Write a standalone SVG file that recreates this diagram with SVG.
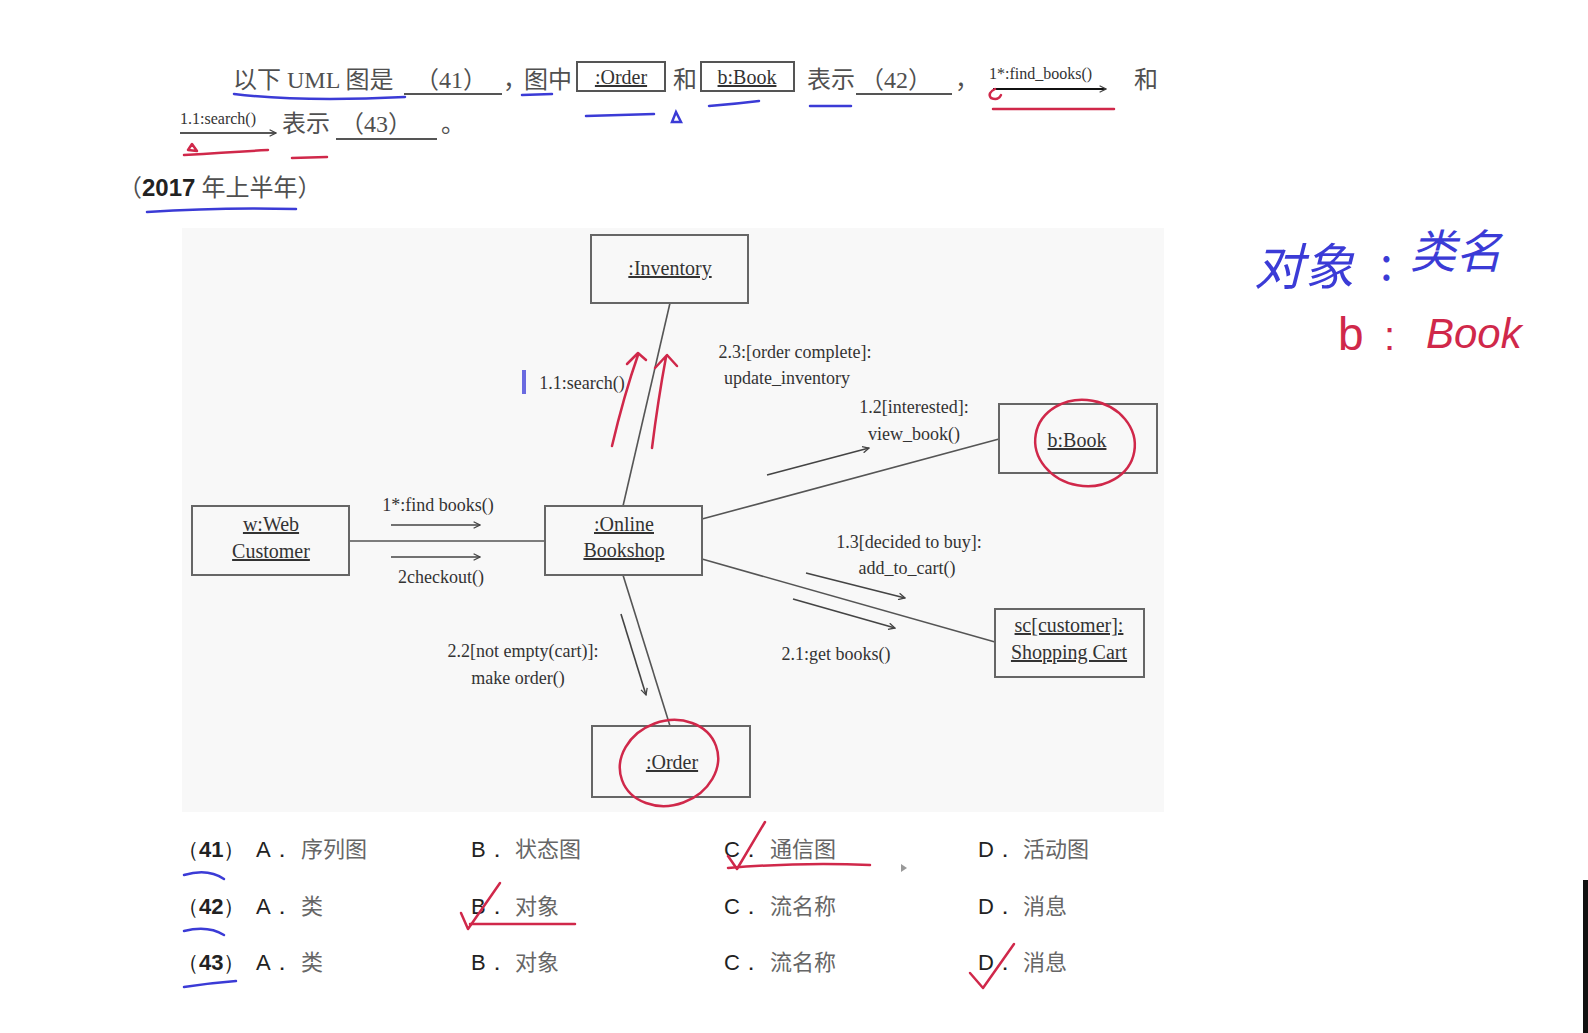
<svg xmlns="http://www.w3.org/2000/svg" width="1588" height="1033" viewBox="0 0 1588 1033">
<style>
.q{font-family:"Liberation Serif","Noto Sans CJK SC",serif;font-size:24px;fill:#505050}
.qs{font-family:"Liberation Serif",serif;font-size:16px;fill:#333}
.nd{fill:none;stroke:#666;stroke-width:2}
.nt{font-family:"Liberation Serif",serif;font-size:20px;fill:#333;text-anchor:middle;text-decoration:underline}
.lb{font-family:"Liberation Serif",serif;font-size:18px;fill:#333;text-anchor:middle}
.ln{stroke:#555;stroke-width:1.6;fill:none}
.ar{stroke:#444;stroke-width:1.6;fill:none;marker-end:url(#ah)}
.op{font-family:"Liberation Sans",sans-serif;font-size:22px;fill:#222}
.oc{font-family:"Noto Sans CJK SC",sans-serif;font-size:22px;fill:#666}
.bl{stroke:#3b3bd6;stroke-width:2.5;fill:none;stroke-linecap:round}
.rd{stroke:#d0284a;stroke-width:2.5;fill:none;stroke-linecap:round;stroke-linejoin:round}
.hb{font-family:"Noto Sans CJK SC",sans-serif;fill:#3b3bd6}
.hr{font-family:"Liberation Sans",sans-serif;fill:#d0284a}
</style>
<defs>
<marker id="ah" viewBox="0 0 10 10" refX="9" refY="5" markerWidth="8" markerHeight="8" orient="auto" markerUnits="userSpaceOnUse">
<path d="M1,1 L9,5 L1,9" fill="none" stroke="#444" stroke-width="1.6"/>
</marker>
</defs>
<rect width="1588" height="1033" fill="#fff"/>
<rect x="182" y="228" width="982" height="584" fill="#f8f8f8"/>
<rect x="1583" y="880" width="5" height="153" fill="#111"/>

<g id="question">
<text class="q" x="233" y="88">以下 UML 图是</text>
<text class="q" x="415" y="88">（41）</text>
<line x1="404" y1="94" x2="502" y2="94" stroke="#555" stroke-width="2"/>
<text class="q" x="503" y="88">，</text>
<text class="q" x="524" y="88">图中</text>
<rect x="577" y="62" width="88" height="29" fill="none" stroke="#555" stroke-width="2"/>
<text class="nt" x="621" y="84">:Order</text>
<text class="q" x="673" y="88">和</text>
<rect x="701" y="62" width="93" height="29" fill="none" stroke="#555" stroke-width="2"/>
<text class="nt" x="747" y="84">b:Book</text>
<text class="q" x="807" y="88">表示</text>
<text class="q" x="860" y="88">（42）</text>
<line x1="856" y1="94" x2="952" y2="94" stroke="#555" stroke-width="2"/>
<text class="q" x="955" y="88">，</text>
<text class="qs" x="989" y="79">1*:find_books()</text>
<line x1="993" y1="89" x2="1106" y2="89" stroke="#111" stroke-width="2" marker-end="url(#ah)"/>
<text class="q" x="1134" y="88">和</text>
<text class="qs" x="180" y="124">1.1:search()</text>
<line x1="180" y1="133" x2="276" y2="133" stroke="#555" stroke-width="2" marker-end="url(#ah)"/>
<text class="q" x="282" y="132">表示</text>
<text class="q" x="340" y="132">（43）</text>
<line x1="336" y1="139" x2="437" y2="139" stroke="#555" stroke-width="2"/>
<text class="q" x="441" y="132">。</text>
<text class="q" x="118" y="196" font-size="22">（<tspan font-family="Liberation Sans" font-weight="bold" fill="#222">2017</tspan> 年上半年）</text>
</g>

<g id="connectors">
<line class="ln" x1="349" y1="541" x2="545" y2="541"/>
<line class="ln" x1="623" y1="506" x2="670" y2="303"/>
<line class="ln" x1="702" y1="519" x2="999" y2="439"/>
<line class="ln" x1="702" y1="559" x2="995" y2="642"/>
<line class="ln" x1="623" y1="575" x2="670" y2="726"/>
<line class="ar" x1="391" y1="525" x2="480" y2="525"/>
<line class="ar" x1="391" y1="557" x2="480" y2="557"/>
<line class="ar" x1="767" y1="475" x2="869" y2="448"/>
<line class="ar" x1="806" y1="573" x2="905" y2="598"/>
<line class="ar" x1="793" y1="599" x2="895" y2="628"/>
<line class="ar" x1="621" y1="614" x2="646" y2="695"/>
<text class="lb" x="438" y="511">1*:find books()</text>
<text class="lb" x="441" y="583">2checkout()</text>
<text class="lb" x="914" y="413">1.2[interested]:</text>
<text class="lb" x="914" y="440">view_book()</text>
<text class="lb" x="909" y="548">1.3[decided to buy]:</text>
<text class="lb" x="907" y="574">add_to_cart()</text>
<text class="lb" x="836" y="660">2.1:get books()</text>
<text class="lb" x="523" y="657">2.2[not empty(cart)]:</text>
<text class="lb" x="518" y="684">make order()</text>
<text class="lb" x="795" y="358">2.3:[order complete]:</text>
<text class="lb" x="787" y="384">update_inventory</text>
<text class="lb" x="582" y="389">1.1:search()</text>
<rect x="522" y="370" width="4" height="24" fill="#6a6ae0"/>
</g>

<g id="inventory"><rect class="nd" x="591" y="235" width="157" height="68" fill="#fafafa"/><text class="nt" x="670" y="275">:Inventory</text></g>
<g id="webcustomer"><rect class="nd" x="192" y="506" width="157" height="69" fill="#fafafa"/><text class="nt" x="271" y="531">w:Web</text><text class="nt" x="271" y="558">Customer</text></g>
<g id="bookshop"><rect class="nd" x="545" y="506" width="157" height="69" fill="#fafafa"/><text class="nt" x="624" y="531">:Online</text><text class="nt" x="624" y="557">Bookshop</text></g>
<g id="book"><rect class="nd" x="999" y="404" width="158" height="69" fill="#fafafa"/><text class="nt" x="1077" y="447">b:Book</text></g>
<g id="cart"><rect class="nd" x="995" y="609" width="149" height="68" fill="#fafafa"/><text class="nt" x="1069" y="632">sc[customer]:</text><text class="nt" x="1069" y="659">Shopping Cart</text></g>
<g id="order"><rect class="nd" x="592" y="726" width="158" height="71" fill="#fafafa"/><text class="nt" x="672" y="769">:Order</text></g>

<g id="options">
<text class="op" x="177" y="857">（<tspan font-weight="bold">41</tspan>）</text>
<text class="op" x="256" y="857">A．</text><text class="oc" x="301" y="857">序列图</text>
<text class="op" x="471" y="857">B．</text><text class="oc" x="515" y="857">状态图</text>
<text class="op" x="724" y="857">C．</text><text class="oc" x="770" y="857">通信图</text>
<text class="op" x="978" y="857">D．</text><text class="oc" x="1023" y="857">活动图</text>
<text class="op" x="177" y="914">（<tspan font-weight="bold">42</tspan>）</text>
<text class="op" x="256" y="914">A．</text><text class="oc" x="301" y="914">类</text>
<text class="op" x="471" y="914">B．</text><text class="oc" x="515" y="914">对象</text>
<text class="op" x="724" y="914">C．</text><text class="oc" x="770" y="914">流名称</text>
<text class="op" x="978" y="914">D．</text><text class="oc" x="1023" y="914">消息</text>
<text class="op" x="177" y="970">（<tspan font-weight="bold">43</tspan>）</text>
<text class="op" x="256" y="970">A．</text><text class="oc" x="301" y="970">类</text>
<text class="op" x="471" y="970">B．</text><text class="oc" x="515" y="970">对象</text>
<text class="op" x="724" y="970">C．</text><text class="oc" x="770" y="970">流名称</text>
<text class="op" x="978" y="970">D．</text><text class="oc" x="1023" y="970">消息</text>
</g>

<g id="annotations">
<path class="bl" d="M234,94 Q300,102 405,97"/>
<path class="bl" d="M522,95 L552,94"/>
<path class="bl" d="M586,116 L654,114"/>
<path class="bl" d="M676,112 L681,122 L672,122 Z"/>
<path class="bl" d="M709,106 Q735,104 759,101"/>
<path class="bl" d="M810,106 L851,106"/>
<path class="bl" d="M147,212 Q220,207 296,209"/>
<path class="rd" d="M993,109 L1114,109"/>
<path class="rd" d="M995,89 Q987,93 991,98 Q998,101 1001,95"/>
<path class="rd" d="M184,155 Q230,152 268,150"/>
<path class="rd" d="M188,150 L192,144 L197,151 Z"/>
<path class="rd" d="M292,158 L327,157"/>
<path class="rd" d="M612,446 Q624,395 638,355 M627,364 L638,353 L646,360"/>
<path class="rd" d="M652,448 Q658,400 666,357 M655,368 L667,355 L677,366"/>
<ellipse class="rd" cx="1085" cy="443" rx="50" ry="43" transform="rotate(10 1085 443)"/>
<ellipse class="rd" cx="669" cy="763" rx="50" ry="42" transform="rotate(-20 669 763)"/>
<path class="rd" d="M728,856 L737,869 L765,822"/>
<path class="rd" d="M728,868 Q800,862 870,865"/>
<path class="rd" d="M461,913 L468,929 L500,883"/>
<path class="rd" d="M470,924 L575,924"/>
<path class="rd" d="M970,973 L983,988 L1014,944"/>
<path class="bl" d="M184,875 Q208,868 224,879"/>
<path class="bl" d="M184,931 Q208,925 224,935"/>
<path class="bl" d="M184,987 Q210,983 236,981"/>
<path d="M901,864 L901,872 L907,868 Z" fill="#999"/>
<text class="hb" x="1254" y="285" font-size="50" font-style="italic">对象</text>
<text class="hb" x="1380" y="280" font-size="46">:</text>
<text class="hb" x="1410" y="268" font-size="46" font-style="italic">类名</text>
<text class="hr" x="1338" y="350" font-size="46">b</text>
<text class="hr" x="1384" y="350" font-size="40">:</text>
<text class="hr" x="1426" y="348" font-size="42" font-style="italic">Book</text>
</g>
</svg>
